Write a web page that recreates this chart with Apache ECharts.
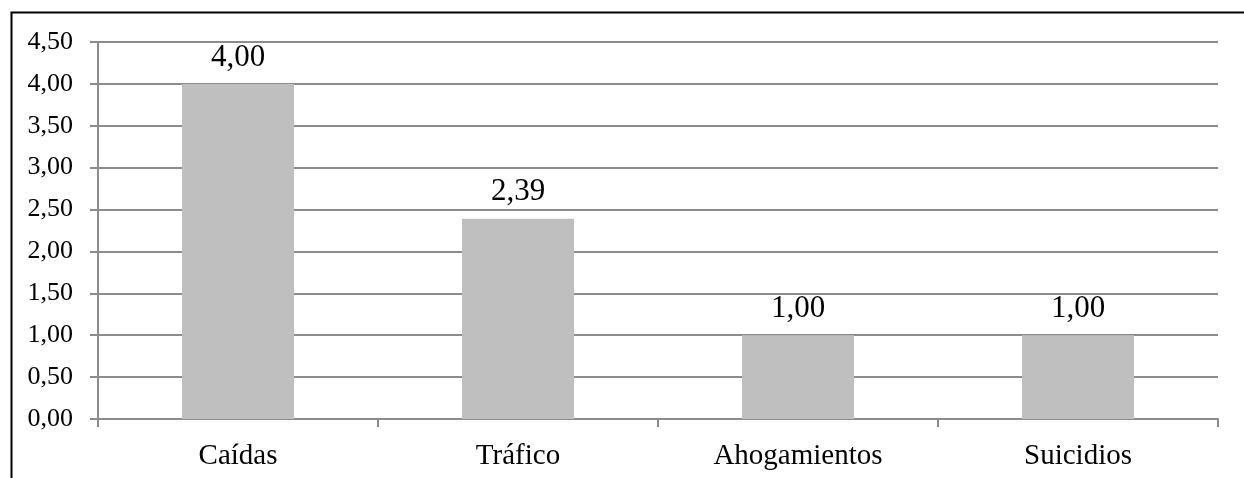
<!DOCTYPE html>
<html><head><meta charset="utf-8">
<script src="https://cdn.jsdelivr.net/npm/echarts@6/dist/echarts.min.js"></script>
<style>html,body{margin:0;padding:0;background:#fff}#c{width:1244px;height:478px}</style>
</head><body><div id="c"></div>
<script>
const categories = ['Caídas', 'Tráfico', 'Ahogamientos', 'Suicidios'];
const values = [4.00, 2.39, 1.00, 1.00];
const yMin = 0, yMax = 4.5, yStep = 0.5;

const fmt = v => v.toFixed(2).replace('.', ',');
const chart = echarts.init(document.getElementById('c'), null, {renderer: 'canvas'});
chart.setOption({
  animation: false,
  backgroundColor: '#fff',
  grid: {left: 98, right: 26, top: 42, bottom: 59, containLabel: false},
  graphic: [{
    type: 'polyline', silent: true,
    shape: {points: [[11.5, 600], [11.5, 12.5], [1300, 12.5]]},
    style: {stroke: '#000', lineWidth: 2, fill: null}
  }],
  xAxis: {
    type: 'category', data: categories,
    axisLine: {lineStyle: {color: '#8c8c8c', width: 2}},
    axisTick: {show: true, length: 8, lineStyle: {color: '#8c8c8c', width: 2}},
    axisLabel: {fontFamily: 'Liberation Serif', fontSize: 29, color: '#000', margin: 23}
  },
  yAxis: {
    type: 'value', min: yMin, max: yMax, interval: yStep,
    axisLine: {show: true, lineStyle: {color: '#8c8c8c', width: 2}},
    axisTick: {show: true, length: 8, lineStyle: {color: '#8c8c8c', width: 2}},
    splitLine: {lineStyle: {color: '#8c8c8c', width: 2}},
    axisLabel: {fontFamily: 'Liberation Serif', fontSize: 26, color: '#000', margin: 25, formatter: v => fmt(v)}
  },
  series: [{
    type: 'bar', data: values, barWidth: '40%',
    itemStyle: {color: '#bfbfbf'},
    label: {show: true, position: 'top', distance: 11, fontFamily: 'Liberation Serif', fontSize: 31, color: '#000', formatter: p => fmt(p.value)}
  }]
});
</script></body></html>
